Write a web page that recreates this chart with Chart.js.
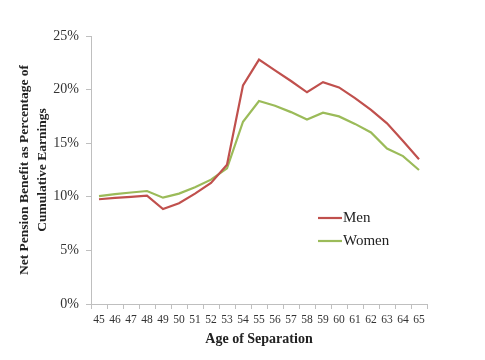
<!DOCTYPE html>
<html>
<head>
<meta charset="utf-8">
<script src="https://cdn.jsdelivr.net/npm/chart.js@4"></script>
<style>
html,body{margin:0;padding:0;background:#fff;}
#wrap{width:485px;height:360px;}
</style>
</head>
<body>
<div id="wrap"><canvas id="c" width="485" height="360"></canvas></div>
<script>
const ages = ['45','46','47','48','49','50','51','52','53','54','55','56','57','58','59','60','61','62','63','64','65'];
const men = [9.77,9.9,10.0,10.1,8.86,9.4,10.3,11.3,13.0,20.4,22.8,21.8,20.8,19.75,20.7,20.2,19.2,18.1,16.85,15.2,13.5];
const women = [10.07,10.25,10.4,10.54,9.92,10.3,10.9,11.6,12.66,17.0,18.94,18.5,17.9,17.2,17.85,17.5,16.8,16.0,14.5,13.8,12.5];
const yTicks = [0,5,10,15,20,25];

const legendPlugin = {
  id: 'inlineLegend',
  afterDraw(chart) {
    const ctx = chart.ctx;
    const x0 = 318, x1 = 342;
    const ys = [218, 241];
    chart.data.datasets.forEach((ds, i) => {
      ctx.save();
      ctx.strokeStyle = ds.borderColor;
      ctx.lineWidth = 2.2;
      ctx.beginPath();
      ctx.moveTo(x0, ys[i]);
      ctx.lineTo(x1, ys[i]);
      ctx.stroke();
      ctx.fillStyle = '#222';
      ctx.font = '15px "Liberation Serif"';
      ctx.textBaseline = 'middle';
      ctx.fillText(ds.label, x1 + 1, ys[i]);
      ctx.restore();
    });
  }
};

new Chart(document.getElementById('c'), {
  type: 'line',
  data: {
    labels: ages,
    datasets: [
      {label: 'Men', data: men, borderColor: '#c0504d', backgroundColor: '#c0504d', borderWidth: 2.2, pointRadius: 0, tension: 0},
      {label: 'Women', data: women, borderColor: '#9bbb59', backgroundColor: '#9bbb59', borderWidth: 2.2, pointRadius: 0, tension: 0}
    ]
  },
  options: {
    responsive: false,
    animation: false,
    layout: {padding: {left: 0, right: 58, top: 36, bottom: 12}},
    plugins: {legend: {display: false}, tooltip: {enabled: false}},
    scales: {
      x: {
        offset: true,
        grid: {display: true, drawOnChartArea: false, offset: true, tickLength: 5, color: '#bfbfbf'},
        border: {color: '#bfbfbf', width: 1},
        ticks: {color: '#333', font: {family: 'Liberation Serif', size: 11.5}, padding: 4, maxRotation: 0, autoSkip: false},
        title: {display: true, text: 'Age of Separation', color: '#222', font: {family: 'Liberation Serif', size: 14, weight: 'bold'}, padding: {top: 0, bottom: 0}},
        afterFit(s) { s.height = 44; }
      },
      y: {
        min: 0, max: 25,
        afterBuildTicks(s) { s.ticks = yTicks.map(v => ({value: v})); },
        grid: {display: true, drawOnChartArea: false, tickLength: 5, color: '#bfbfbf'},
        border: {color: '#bfbfbf', width: 1},
        ticks: {color: '#333', font: {family: 'Liberation Serif', size: 14}, padding: 7, callback: v => v + '%'},
        title: {display: true, text: ['Net Pension Benefit as Percentage of', 'Cumulative Earnings'], color: '#222', font: {family: 'Liberation Serif', size: 13.5, weight: 'bold', lineHeight: 1.3}, padding: {top: 16, bottom: 0}},
        afterFit(s) { s.width = 91; }
      }
    }
  },
  plugins: [legendPlugin]
});
</script>
</body>
</html>
